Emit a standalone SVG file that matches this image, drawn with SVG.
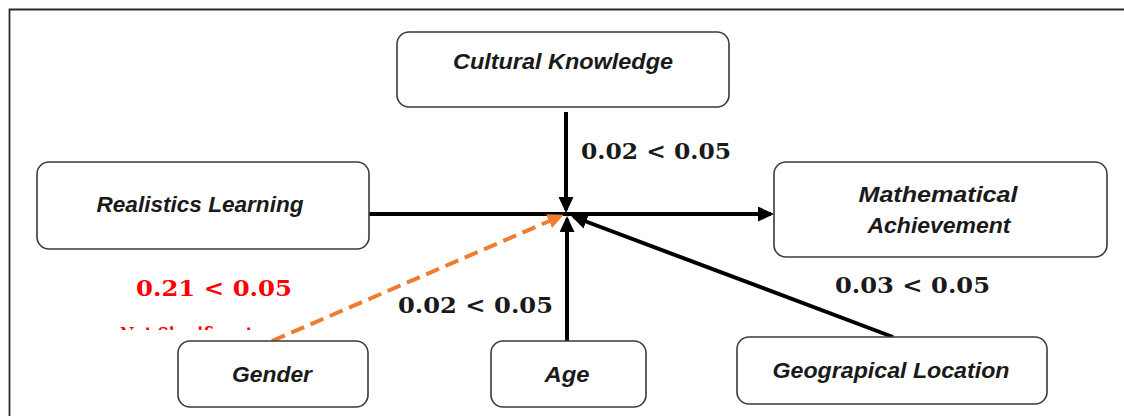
<svg xmlns="http://www.w3.org/2000/svg" width="1124" height="416" viewBox="0 0 1124 416">
<defs>
<style>
.box{fill:#fff;stroke:#3a3a3a;stroke-width:1.6}
.lbl{font-family:"Liberation Sans",Arial,sans-serif;font-weight:bold;font-style:italic;font-size:22px;fill:#1a1a1a;text-anchor:middle}
.val{font-family:"DejaVu Serif","Liberation Serif",serif;font-weight:bold;font-size:23px;fill:#1a1a1a}
.red{fill:#ff0000}
.conn{fill:none;stroke:#000;stroke-width:4}
.dash{fill:none;stroke:#ed7d31;stroke-width:4;stroke-dasharray:14 7}
</style>
<marker id="ah" markerUnits="userSpaceOnUse" markerWidth="17" markerHeight="16" refX="13" refY="7.5" orient="auto">
<path d="M0,0 L16,7.5 L0,15 z" fill="#000"/>
</marker>
<marker id="aho" markerUnits="userSpaceOnUse" markerWidth="17" markerHeight="16" refX="13" refY="7.5" orient="auto">
<path d="M0,0 L16,7.5 L0,15 z" fill="#ed7d31"/>
</marker>
<clipPath id="cut"><rect x="100" y="326" width="180" height="4"/></clipPath>
</defs>
<rect x="0" y="0" width="1124" height="416" fill="#fff"/>
<path d="M9.5,416 V9.5 H1124" fill="none" stroke="#2a2a2a" stroke-width="1.8"/>

<g id="connectors">
<path class="conn" d="M369,214 H771" marker-end="url(#ah)"/>
<path class="conn" d="M566,112 V210" marker-end="url(#ah)"/>
<path class="conn" d="M567,341 V219" marker-end="url(#ah)"/>
<path class="conn" d="M893,337 L574,217" marker-end="url(#ah)"/>
<path class="dash" d="M272,341 L561,216" marker-end="url(#aho)"/>
</g>

<g id="node-cultural">
<rect class="box" x="397" y="32" width="332" height="75" rx="12"/>
<text class="lbl" x="563" y="69" textLength="220" lengthAdjust="spacingAndGlyphs">Cultural Knowledge</text>
</g>
<g id="node-realistics">
<rect class="box" x="37" y="162" width="332" height="87" rx="12"/>
<text class="lbl" x="200" y="212" textLength="207" lengthAdjust="spacingAndGlyphs">Realistics Learning</text>
</g>
<g id="node-math">
<rect class="box" x="774" y="162" width="333" height="95" rx="12"/>
<text class="lbl" x="938" y="202" textLength="159" lengthAdjust="spacingAndGlyphs">Mathematical</text>
<text class="lbl" x="939" y="233" textLength="143" lengthAdjust="spacingAndGlyphs">Achievement</text>
</g>
<g id="node-gender">
<rect class="box" x="178" y="341" width="190" height="66" rx="12"/>
<text class="lbl" x="272" y="382" textLength="80" lengthAdjust="spacingAndGlyphs">Gender</text>
</g>
<g id="node-age">
<rect class="box" x="491" y="341" width="155" height="66" rx="12"/>
<text class="lbl" x="567" y="382" textLength="45" lengthAdjust="spacingAndGlyphs">Age</text>
</g>
<g id="node-geo">
<rect class="box" x="737" y="337" width="310" height="67" rx="12"/>
<text class="lbl" x="891" y="378" textLength="237" lengthAdjust="spacingAndGlyphs">Geograpical Location</text>
</g>

<g id="labels">
<text class="val" x="581" y="159" textLength="150" lengthAdjust="spacingAndGlyphs">0.02 &lt; 0.05</text>
<text class="val" x="398" y="313" textLength="155" lengthAdjust="spacingAndGlyphs">0.02 &lt;  0.05</text>
<text class="val" x="835" y="293" textLength="155" lengthAdjust="spacingAndGlyphs">0.03 &lt;  0.05</text>
<text class="val red" x="136" y="296" textLength="156" lengthAdjust="spacingAndGlyphs">0.21 &lt;  0.05</text>
<text class="val red" x="120" y="343" textLength="133" lengthAdjust="spacingAndGlyphs" clip-path="url(#cut)">Not Significant</text>
</g>
</svg>
